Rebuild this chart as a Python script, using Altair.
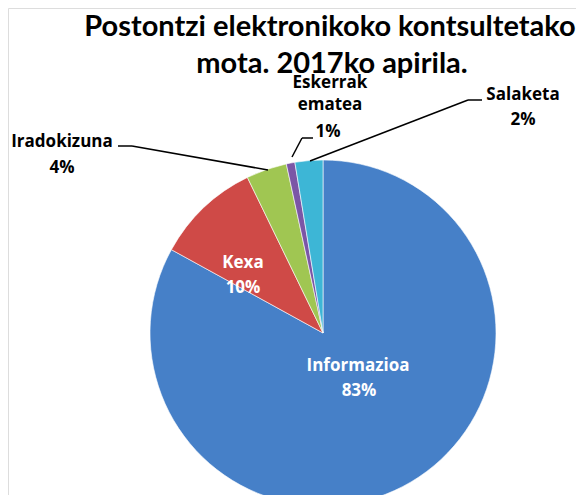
import altair as alt
import pandas as pd

categories = ["Informazioa", "Kexa", "Iradokizuna", "Eskerrak ematea", "Salaketa"]
values = [83.0, 9.8, 3.8, 0.8, 2.6]
pct_labels = ["83%", "10%", "4%", "1%", "2%"]
colors = ["#4680C8", "#CF4A47", "#A0C652", "#7B56A6", "#3DB6D6"]
title_lines = ["Postontzi elektronikoko kontsultetako", "mota. 2017ko apirila."]

df = pd.DataFrame({"cat": categories, "val": values, "ord": list(range(len(categories)))})

W, H = 568, 487
CX, CY, R = 315, 325, 173

pie = alt.Chart(df).mark_arc(outerRadius=R, stroke="#ffffff", strokeWidth=0.6).encode(
    theta=alt.Theta("val:Q", stack=True),
    color=alt.Color("cat:N", scale=alt.Scale(domain=categories, range=colors), legend=None),
    order=alt.Order("ord:Q"),
    x=alt.value(CX),
    y=alt.value(CY),
)

layers = [pie]

def txt(s, x, y, size=17, color="#000000", baseline="middle", font="Open Sans"):
    return alt.Chart(pd.DataFrame({"t": [s]})).mark_text(
        font=font, fontSize=size, fontWeight="bold", color=color, align="center", baseline=baseline
    ).encode(text="t:N", x=alt.value(x), y=alt.value(y))

# title
layers.append(txt(title_lines[0], 322, 28, size=29, baseline="alphabetic", font="Lato"))
layers.append(txt(title_lines[1], 324, 65, size=29, baseline="alphabetic", font="Lato"))

# inside labels
layers.append(txt(categories[0], 350, 358, color="#ffffff"))
layers.append(txt(pct_labels[0], 351, 383, color="#ffffff"))
layers.append(txt(categories[1], 235, 255, color="#ffffff"))
layers.append(txt(pct_labels[1], 235, 280, color="#ffffff"))

# outside labels
layers.append(txt(categories[2], 54, 134))
layers.append(txt(pct_labels[2], 54, 160))
esk = categories[3].split(" ")
layers.append(txt(esk[0], 322, 75))
layers.append(txt(esk[1], 322, 97))
layers.append(txt(pct_labels[3], 320, 124))
layers.append(txt(categories[4], 515, 87))
layers.append(txt(pct_labels[4], 515, 112))

def seg(x1, y1, x2, y2):
    return alt.Chart(pd.DataFrame({"a": [0]})).mark_rule(color="#000000", strokeWidth=1.5).encode(
        x=alt.value(x1), y=alt.value(y1), x2=alt.value(x2), y2=alt.value(y2)
    )

layers += [
    seg(110, 138, 124, 138), seg(124, 138, 260, 162),
    seg(305, 130, 294, 130), seg(294, 130, 284, 149),
    seg(474, 92, 460, 92), seg(460, 92, 302, 153),
]

chart = alt.layer(*layers).properties(
    width=W, height=H, autosize=alt.AutoSizeParams(type="none"), padding=0
).configure_view(strokeWidth=0, stroke="transparent").configure(background="#ffffff")

chart.save("out.html", embed_options={"renderer": "svg", "actions": False})
